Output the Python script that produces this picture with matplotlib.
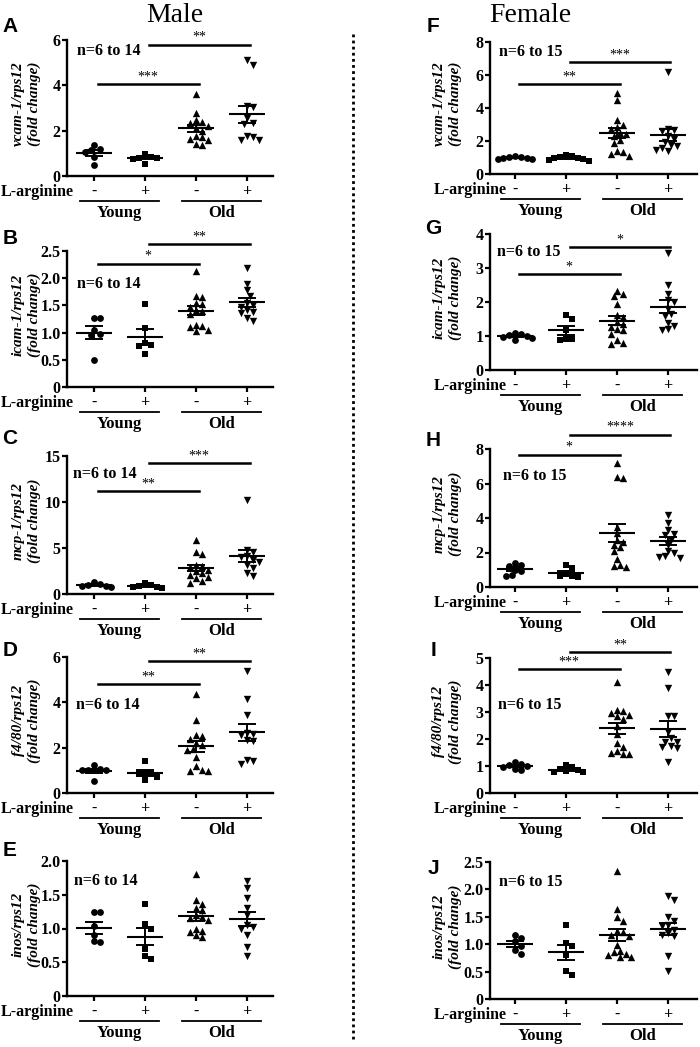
import numpy as np
import matplotlib
matplotlib.use("Agg")
import matplotlib.pyplot as plt
from matplotlib.transforms import blended_transform_factory, offset_copy

plt.rcParams["font.family"] = ["Liberation Serif", "DejaVu Serif"]

W, H = 700, 1047
MARKERS = ["o", "s", "^", "v"]
TREAT = ["-", "+", "-", "+"]
AGES = ["Young", "Old"]

# values, groups: young -, young +, old -, old +
vcam_male = [
    [1.38, 1.2, 1.15, 1.05, 0.85, 0.5],
    [0.95, 0.85, 0.8, 0.8, 0.75, 0.55],
    [3.6, 2.8, 2.45, 2.4, 2.35, 2.2, 2.1, 2.0, 1.75, 1.7, 1.65, 1.6, 1.4, 1.38],
    [5.1, 4.9, 3.1, 3.05, 2.55, 2.35, 2.3, 1.75, 1.7, 1.6, 1.6],
]
icam_male = [
    [1.26, 1.26, 1.05, 0.97, 0.95, 0.5],
    [1.53, 1.08, 0.8, 0.77, 0.75, 0.6],
    [2.13, 1.67, 1.65, 1.55, 1.52, 1.47, 1.42, 1.4, 1.35, 1.14, 1.12, 1.1, 1.05, 1.03],
    [2.19, 1.9, 1.78, 1.68, 1.55, 1.5, 1.47, 1.42, 1.38, 1.36, 1.26, 1.22],
]
mcp_male = [
    [1.35, 1.1, 1.0, 0.9, 0.85, 0.75],
    [1.15, 1.0, 0.9, 0.8, 0.75, 0.65],
    [5.9, 4.6, 4.4, 3.2, 3.0, 2.9, 2.6, 2.5, 2.3, 2.1, 1.9, 1.7, 1.4, 1.2],
    [10.2, 4.8, 4.6, 4.1, 4.0, 3.7, 3.5, 3.2, 2.8, 2.3, 2.0],
]
f480_male = [
    [1.25, 1.05, 1.03, 1.02, 1.0, 0.55],
    [1.42, 0.9, 0.87, 0.85, 0.7, 0.58],
    [4.35, 3.2, 2.55, 2.5, 2.4, 2.2, 2.1, 1.95, 1.88, 1.6, 1.2, 1.0, 0.98, 0.97],
    [5.4, 4.15, 3.45, 2.65, 2.6, 2.55, 2.35, 2.3, 1.45, 1.4, 1.3],
]
inos_male = [
    [1.25, 1.25, 1.03, 0.9, 0.81, 0.8],
    [1.36, 1.07, 1.0, 0.7, 0.6, 0.55],
    [1.81, 1.42, 1.37, 1.3, 1.27, 1.2, 1.17, 1.15, 1.12, 1.0, 0.97, 0.95, 0.9, 0.88],
    [1.71, 1.6, 1.45, 1.3, 1.2, 1.05, 1.02, 1.0, 0.9, 0.72, 0.6],
]
vcam_female = [
    [1.1, 1.05, 1.02, 1.0, 0.97, 0.93, 0.88],
    [1.15, 1.1, 1.05, 1.0, 0.95, 0.9, 0.85, 0.8],
    [4.9, 4.5, 3.25, 3.0, 2.85, 2.7, 2.5, 2.4, 2.3, 2.05, 1.85, 1.4, 1.35, 1.2, 1.1],
    [6.2, 2.7, 2.65, 2.6, 2.3, 2.1, 1.95, 1.75, 1.7, 1.6, 1.45, 1.4],
]
icam_female = [
    [1.1, 1.05, 1.02, 1.0, 0.97, 0.93, 0.88],
    [1.62, 1.5, 1.17, 0.92, 0.9, 0.88],
    [2.32, 2.25, 2.17, 1.95, 1.62, 1.55, 1.4, 1.35, 1.27, 1.2, 1.17, 1.07, 0.88, 0.78, 0.76],
    [3.43, 2.5, 2.25, 2.05, 2.0, 1.8, 1.65, 1.6, 1.38, 1.3, 1.2, 1.17],
]
mcp_female = [
    [1.42, 1.3, 1.2, 1.0, 0.9, 0.68, 0.65],
    [1.3, 1.1, 0.75, 0.65, 0.62, 0.6],
    [7.2, 6.35, 6.3, 3.5, 3.15, 2.75, 2.6, 2.45, 2.3, 2.1, 1.6, 1.3, 1.2, 1.15],
    [4.2, 3.7, 3.3, 3.1, 3.0, 2.75, 2.45, 2.1, 1.95, 1.8, 1.75, 1.7],
]
f480_female = [
    [1.15, 1.08, 1.03, 1.0, 0.98, 0.9, 0.85],
    [1.05, 0.95, 0.88, 0.85, 0.82, 0.78, 0.76],
    [4.1, 3.08, 3.05, 2.95, 2.9, 2.85, 2.75, 2.5, 2.2, 1.85, 1.7, 1.55, 1.5, 1.45, 1.45],
    [4.5, 3.9, 2.85, 2.85, 2.25, 2.05, 1.9, 1.88, 1.75, 1.7, 1.65, 1.15],
]
inos_female = [
    [1.16, 1.12, 1.05, 0.96, 0.89, 0.82],
    [1.35, 1.03, 0.97, 0.81, 0.52, 0.43],
    [2.33, 1.65, 1.5, 1.43, 1.25, 1.22, 1.17, 1.15, 0.98, 0.88, 0.85, 0.82, 0.8, 0.77, 0.76],
    [1.88, 1.8, 1.5, 1.42, 1.35, 1.33, 1.26, 1.2, 1.17, 1.15, 0.78, 0.52],
]

# significance comparisons: (group a, group b, bar height, stars)
sig_vcam_male = [(0, 2, 4.05, "***"), (1, 3, 5.8, "**")]
sig_icam_male = [(0, 2, 2.27, "*"), (1, 3, 2.62, "**")]
sig_mcp_male = [(0, 2, 11.2, "**"), (1, 3, 14.2, "***")]
sig_f480_male = [(0, 2, 4.82, "**"), (1, 3, 5.82, "**")]
sig_vcam_female = [(0, 2, 5.44, "**"), (1, 3, 6.8, "***")]
sig_icam_female = [(0, 2, 2.81, "*"), (1, 3, 3.61, "*")]
sig_mcp_female = [(0, 2, 7.67, "*"), (1, 3, 8.83, "****")]
sig_f480_female = [(0, 2, 4.6, "***"), (1, 3, 5.22, "**")]

# panel layout: letter, data, sig, gene label, yticks, tick labels, n text, n pos, column, top/bottom px
PANELS = [
    ("A", vcam_male, sig_vcam_male, "vcam-1/rps12", [0, 2, 4, 6], None, "n=6 to 14", (-0.34, 5.5), 0, 40, 176),
    ("B", icam_male, sig_icam_male, "icam-1/rps12", [0, 0.5, 1.0, 1.5, 2.0, 2.5],
     ["0", "0.5", "1.0", "1.5", "2.0", "2.5"], "n=6 to 14", (-0.34, 1.9), 0, 251, 387),
    ("C", mcp_male, sig_mcp_male, "mcp-1/rps12", [0, 5, 10, 15], None, "n=6 to 14", (-0.41, 13.0), 0, 456, 594),
    ("D", f480_male, sig_f480_male, "f4/80/rps12", [0, 2, 4, 6], None, "n=6 to 14", (-0.35, 3.87), 0, 657, 793),
    ("E", inos_male, [], "inos/rps12", [0, 0.5, 1.0, 1.5, 2.0],
     ["0", "0.5", "1.0", "1.5", "2.0"], "n=6 to 14", (-0.40, 1.71), 0, 861, 996),
    ("F", vcam_female, sig_vcam_female, "vcam-1/rps12", [0, 2, 4, 6, 8], None, "n=6 to 15", (-0.31, 7.4), 1, 42, 174),
    ("G", icam_female, sig_icam_female, "icam-1/rps12", [0, 1, 2, 3, 4], None, "n=6 to 15", (-0.36, 3.46), 1, 234, 370),
    ("H", mcp_female, sig_mcp_female, "mcp-1/rps12", [0, 2, 4, 6, 8], None, "n=6 to 15", (-0.24, 6.42), 1, 449, 587),
    ("I", f480_female, sig_f480_female, "f4/80/rps12", [0, 1, 2, 3, 4, 5], None, "n=6 to 15", (-0.34, 3.27), 1, 658, 793),
    ("J", inos_female, [], "inos/rps12", [0, 0.5, 1.0, 1.5, 2.0, 2.5],
     ["0", "0.5", "1.0", "1.5", "2.0", "2.5"], "n=6 to 15", (-0.31, 2.14), 1, 862, 999),
]

COL_X = [(67, 273), (490, 697)]
COL_XLIM = [(-0.53, 3.51), (-0.49, 3.57)]
COL_LARG_X = [-0.39, -0.17]
COL_YLAB_X = [-0.125, -0.135]
LETTER_X = [10, 433]
LETTER_DY = [13, 13, 17, 6, 10, 15, 6, 9, 8, -6]


def swarm_x(ax, xc, vals, d_px):
    vals = np.asarray(vals, dtype=float)
    pts = ax.transData.transform(np.column_stack([np.full(len(vals), xc), vals]))
    offs = np.zeros(len(vals))
    placed = []
    cands = [0.0]
    for j in range(1, 30):
        cands += [j * d_px / 2, -j * d_px / 2]
    for i in np.argsort(-vals):
        y = pts[i, 1]
        for c in cands:
            if all((c - px) ** 2 + (y - py) ** 2 >= d_px ** 2 for px, py in placed):
                break
        placed.append((c, y))
        offs[i] = c
    back = ax.transData.inverted().transform(np.column_stack([pts[:, 0] + offs, pts[:, 1]]))
    return back[:, 0]


fig = plt.figure(figsize=(W / 100, H / 100), dpi=100)

fig.text(175 / W, 1 - 16 / H, "Male", fontsize=20, ha="center", va="center")
fig.text(530 / W, 1 - 16 / H, "Female", fontsize=20, ha="center", va="center")
fig.add_artist(plt.Line2D([353 / W, 353 / W], [1 - 34 / H, 1 - 1040 / H],
                          color="black", lw=2, linestyle=(0, (1, 1.2))))

for k, (letter, data, sig, gene, yticks, ylabels, ntext, npos, col, top, bot) in enumerate(PANELS):
    x0, x1 = COL_X[col]
    ax = fig.add_axes([x0 / W, 1 - bot / H, (x1 - x0) / W, (bot - top) / H])
    ax.set_xlim(*COL_XLIM[col])
    ax.set_ylim(yticks[0], yticks[-1])
    for s in ["top", "right"]:
        ax.spines[s].set_visible(False)
    for s in ["left", "bottom"]:
        ax.spines[s].set_linewidth(1.7)
    ax.set_xticks(range(4))
    ax.set_xticklabels([])
    ax.set_yticks(yticks)
    if ylabels is not None:
        ax.set_yticklabels(ylabels)
    ax.tick_params(axis="both", direction="out", length=3.5, width=1.6, pad=1)
    for lab in ax.get_yticklabels():
        lab.set_fontweight("bold")
        lab.set_fontsize(11.5)

    ax.set_ylabel(gene + "\n(fold change)", fontsize=11, fontweight="bold",
                  fontstyle="italic", linespacing=1.3)
    ax.yaxis.set_label_coords(COL_YLAB_X[col], 0.53)

    for g, vals in enumerate(data):
        xs = swarm_x(ax, g, vals, 5.8)
        ax.scatter(xs, vals, marker=MARKERS[g], s=24 if g < 2 else 28,
                   color="black", linewidths=0, zorder=3, clip_on=False)
        m = np.mean(vals)
        se = np.std(vals, ddof=1) / np.sqrt(len(vals))
        ax.hlines(m, g - 0.35, g + 0.35, color="black", lw=1.5, zorder=4)
        ax.vlines(g, m - se, m + se, color="black", lw=1.4, zorder=4)
        ax.hlines([m - se, m + se], g - 0.17, g + 0.17, color="black", lw=1.4, zorder=4)

    for a, b, h, stars in sig:
        ax.plot([a + 0.08, b + 0.05], [h, h], color="black", lw=1.8, clip_on=False)
        ax.annotate(stars, xy=((a + b) / 2 + 0.06, h), xytext=(0, 0.5), textcoords="offset points",
                    ha="center", va="bottom", fontsize=10, annotation_clip=False)

    ax.text(npos[0], npos[1], ntext, fontsize=11.5, fontweight="bold", ha="left", va="center")

    # treatment / age labels under the axis
    blend = blended_transform_factory(ax.transData, ax.transAxes)
    row1 = offset_copy(blend, fig=fig, y=-16, units="dots")
    row2 = offset_copy(blend, fig=fig, y=-25, units="dots")
    row3 = offset_copy(blend, fig=fig, y=-37, units="dots")
    ax.text(COL_LARG_X[col], 0, "L-arginine", transform=row1, ha="right", va="center",
            fontsize=11.5, fontweight="bold")
    for g, t in enumerate(TREAT):
        ax.text(g, 0, t, transform=row1, ha="center", va="center", fontsize=11.5, fontweight="bold")
    for i, age in enumerate(AGES):
        c = 2 * i + 0.5
        ax.plot([c - 0.77, c + 0.77], [0, 0], transform=row2, color="black", lw=1.3, clip_on=False)
        ax.text(c, 0, age, transform=row3, ha="center", va="center", fontsize=12, fontweight="bold")

    fig.text(LETTER_X[col] / W, 1 - (top - LETTER_DY[k]) / H, letter, fontsize=15,
             fontweight="bold", family="Liberation Sans", ha="center", va="center")

fig.savefig("out.png", dpi=100)
